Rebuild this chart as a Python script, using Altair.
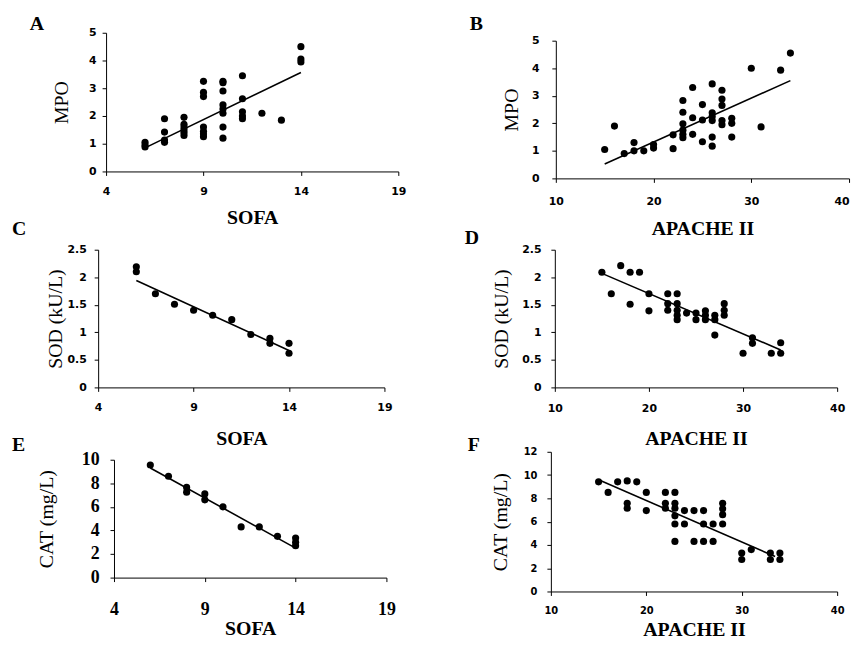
import altair as alt
import pandas as pd

# ---------------- data ----------------
a_sofa = [6, 6, 6, 7, 7, 7, 7, 8, 8, 8, 8, 8, 8, 9, 9, 9, 9, 9, 9, 9,
          10, 10, 10, 10, 10, 10, 10, 10, 11, 11, 11, 11, 11, 12, 13, 14, 14, 14]
a_mpo = [1.05, 0.95, 0.88, 1.9, 1.42, 1.13, 1.05, 1.95, 1.7, 1.6, 1.5, 1.4, 1.3,
         3.25, 2.85, 2.7, 1.6, 1.45, 1.35, 1.25, 3.25, 3.2, 2.9, 2.4, 2.25, 2.1, 1.6, 1.2,
         3.45, 2.62, 2.15, 2.0, 1.9, 2.1, 1.85, 4.5, 4.05, 3.95]
a_fit_x = [6, 14]
a_fit_y = [0.85, 3.57]

b_apache = [15, 16, 17, 18, 18, 19, 20, 20, 22, 22, 23, 23, 23, 23, 23, 23, 24, 24, 24,
            25, 25, 25, 26, 26, 26, 26, 26, 26, 27, 27, 27, 27, 27, 28, 28, 28, 30, 31, 33, 34]
b_mpo = [1.05, 1.9, 0.9, 1.3, 1.0, 1.0, 1.23, 1.1, 1.58, 1.08, 2.83, 2.4, 1.98, 1.75, 1.6, 1.48,
         3.3, 2.2, 1.6, 2.68, 2.12, 1.33, 3.43, 2.38, 2.25, 2.1, 1.5, 1.17,
         3.2, 2.88, 2.65, 2.1, 1.95, 2.18, 2.0, 1.5, 4.0, 1.87, 3.93, 4.55]
b_fit_x = [15, 34]
b_fit_y = [0.52, 3.55]

c_sofa = [6, 6, 7, 8, 9, 10, 11, 12, 13, 13, 14, 14]
c_sod = [2.19, 2.1, 1.7, 1.51, 1.4, 1.31, 1.23, 0.96, 0.89, 0.8, 0.8, 0.62]
c_fit_x = [6, 14]
c_fit_y = [1.94, 0.67]

d_apache = [15, 16, 17, 18, 18, 19, 20, 20, 22, 22, 22, 23, 23, 23, 23, 23, 24, 25, 25,
            26, 26, 26, 27, 27, 27, 28, 28, 28, 30, 31, 31, 33, 34, 34]
d_sod = [2.09, 1.7, 2.21, 2.09, 1.51, 2.09, 1.7, 1.39, 1.7, 1.52, 1.4, 1.7, 1.52, 1.4, 1.31, 1.23,
         1.35, 1.35, 1.23, 1.39, 1.31, 1.23, 1.31, 1.23, 0.95, 1.52, 1.4, 1.31,
         0.62, 0.9, 0.8, 0.62, 0.81, 0.62]
d_fit_x = [15, 34]
d_fit_y = [2.07, 0.68]

e_sofa = [6, 7, 8, 8, 9, 9, 10, 11, 12, 13, 14, 14, 14]
e_cat = [9.55, 8.6, 7.65, 7.25, 7.1, 6.6, 6.0, 4.3, 4.3, 3.5, 3.35, 3.0, 2.7]
e_fit_x = [6, 14]
e_fit_y = [9.3, 2.5]

f_apache = [15, 16, 17, 18, 18, 18, 19, 20, 20, 22, 22, 22, 23, 23, 23, 23, 23, 23, 24, 24,
            25, 25, 26, 26, 26, 27, 27, 28, 28, 28, 28, 30, 30, 31, 33, 33, 34, 34]
f_cat = [9.42, 8.51, 9.42, 9.5, 7.57, 7.15, 9.42, 8.51, 6.95, 8.51, 7.57, 7.15,
         8.51, 7.57, 7.15, 6.5, 5.8, 4.3, 6.95, 5.8, 6.95, 4.3, 6.95, 5.8, 4.3, 5.8, 4.3,
         7.57, 7.1, 6.6, 5.8, 3.3, 2.75, 3.6, 3.3, 2.75, 3.3, 2.75]
f_fit_x = [15, 33.5]
f_fit_y = [9.6, 3.0]

sofa_ticks = [4, 9, 14, 19]
apache_ticks = [10, 20, 30, 40]
panel_letters = ["A", "B", "C", "D", "E", "F"]

SERIF = "Liberation Serif"
SANS = "DejaVu Sans"
FMT = ".1~f"


def panel(xs, ys, fx, fy, xdom, xticks, ydom, yticks, xtitle, ytitle, letter, L):
    pts = pd.DataFrame({"x": xs, "y": ys})
    fit = pd.DataFrame({"x": fx, "y": fy})
    lab = pd.DataFrame({"t": [letter]})
    xr, yr = L["xr"], L["yr"]
    xaxis = alt.Axis(
        values=xticks, title=xtitle, grid=False, tickSize=4, offset=L["xoff"],
        labelPadding=L["xlp"], labelBaseline="middle", labelFont=L["lf"],
        labelFontSize=L["lfs"], labelFontWeight="bold", labelColor="black",
        labelAlign=L.get("xla", "center"),
        labelFlush=False, labelOverlap=False, format=FMT,
        domainColor="black", tickColor="black",
        titleFont=SERIF, titleFontSize=20, titleFontWeight="bold", titleColor="black",
        titleX=(xr[0] + xr[1]) / 2, titleY=L["xty"], titleAlign="center",
        titleBaseline="middle",
    )
    yaxis = alt.Axis(
        values=yticks, title=ytitle, grid=False, tickSize=4, offset=L["yoff"],
        labelPadding=L["ylp"], labelFont=L["lf"], labelFontSize=L["lfs"],
        labelFontWeight="bold", labelColor="black", labelFlush=False, labelOverlap=False,
        format=FMT,
        domainColor="black", tickColor="black",
        titleFont=SERIF, titleFontSize=20, titleFontWeight="normal", titleColor="black",
        titleX=L["ytx"], titleY=(yr[0] + yr[1]) / 2, titleAngle=270,
        titleAlign="center", titleBaseline="middle",
    )
    xs_ = alt.Scale(domain=xdom, range=xr, nice=False, zero=False)
    ys_ = alt.Scale(domain=ydom, range=yr, nice=False, zero=False)
    base_pts = alt.Chart(pts).mark_circle(size=52, color="black", opacity=1).encode(
        x=alt.X("x:Q", scale=xs_, axis=xaxis),
        y=alt.Y("y:Q", scale=ys_, axis=yaxis),
    )
    line = alt.Chart(fit).mark_line(color="black", strokeWidth=1.6).encode(
        x=alt.X("x:Q", scale=xs_, axis=xaxis),
        y=alt.Y("y:Q", scale=ys_, axis=yaxis),
    )
    tag = alt.Chart(lab).mark_text(
        align="left", baseline="alphabetic", font=SERIF, fontSize=20,
        fontWeight="bold", color="black",
    ).encode(text="t:N", x=alt.value(L["tx"]), y=alt.value(L["ty"]))
    return alt.layer(base_pts, line, tag).properties(width=L["w"], height=L["h"])


LA = dict(w=303, h=154, xr=[8, 303], yr=[140, 0], xoff=-14, yoff=-8, xlp=16, ylp=6,
          xty=47, ytx=-45, lf=SANS, lfs=11, tx=-69, ty=-3)
LB = dict(w=301, h=154, xr=[5, 301], yr=[147, 8], xoff=-7, yoff=-5, xlp=19, ylp=13,
          xty=51, ytx=-45, lf=SANS, lfs=11, tx=-82, ty=-3,
          xla={"condition": {"test": "datum.value == 40", "value": "right"},
               "value": "center"})
LC = dict(w=303, h=139, xr=[0, 289], yr=[139, 0], xoff=0, yoff=0, xlp=16, ylp=8,
          xty=52, ytx=-43, lf=SANS, lfs=11, tx=-87, ty=-15)
LD = dict(w=301, h=139, xr=[4, 289], yr=[139, 0], xoff=0, yoff=-4, xlp=17, ylp=10,
          xty=52, ytx=-54, lf=SANS, lfs=11, tx=-87, ty=-6)
LE = dict(w=303, h=141, xr=[16, 291], yr=[127, 8], xoff=-14, yoff=-16, xlp=28, ylp=11,
          xty=51, ytx=-68, lf=SERIF, lfs=18, tx=-87, ty=-1)
LF = dict(w=301, h=141, xr=[0, 289], yr=[141, 0], xoff=0, yoff=0, xlp=15, ylp=10,
          xty=38, ytx=-51, lf=SANS, lfs=10, tx=-84, ty=-1)

pA = panel(a_sofa, a_mpo, a_fit_x, a_fit_y, [4, 19], sofa_ticks, [0, 5], [0, 1, 2, 3, 4, 5],
           "SOFA", "MPO", panel_letters[0], LA)
pB = panel(b_apache, b_mpo, b_fit_x, b_fit_y, [10, 40], apache_ticks, [0, 5], [0, 1, 2, 3, 4, 5],
           "APACHE II", "MPO", panel_letters[1], LB)
pC = panel(c_sofa, c_sod, c_fit_x, c_fit_y, [4, 19], sofa_ticks, [0, 2.5],
           [0, 0.5, 1, 1.5, 2, 2.5], "SOFA", "SOD (kU/L)", panel_letters[2], LC)
pD = panel(d_apache, d_sod, d_fit_x, d_fit_y, [10, 40], apache_ticks, [0, 2.5],
           [0, 0.5, 1, 1.5, 2, 2.5], "APACHE II", "SOD (kU/L)", panel_letters[3], LD)
pE = panel(e_sofa, e_cat, e_fit_x, e_fit_y, [4, 19], sofa_ticks, [0, 10], [0, 2, 4, 6, 8, 10],
           "SOFA", "CAT (mg/L)", panel_letters[4], LE)
pF = panel(f_apache, f_cat, f_fit_x, f_fit_y, [10, 40], apache_ticks, [0, 12],
           [0, 2, 4, 6, 8, 10, 12], "APACHE II", "CAT (mg/L)", panel_letters[5], LF)

chart = alt.concat(
    pA, pB, pC, pD, pE, pF,
    columns=2, spacing={"row": 65, "column": 154}, bounds="flush", align="each",
).properties(
    autosize=alt.AutoSizeParams(type="none"),
    padding={"left": 91, "top": 22, "right": 763, "bottom": 612},
    background="white",
).configure_view(stroke=None)

chart.save("out.html", embed_options={"renderer": "svg", "actions": False})
